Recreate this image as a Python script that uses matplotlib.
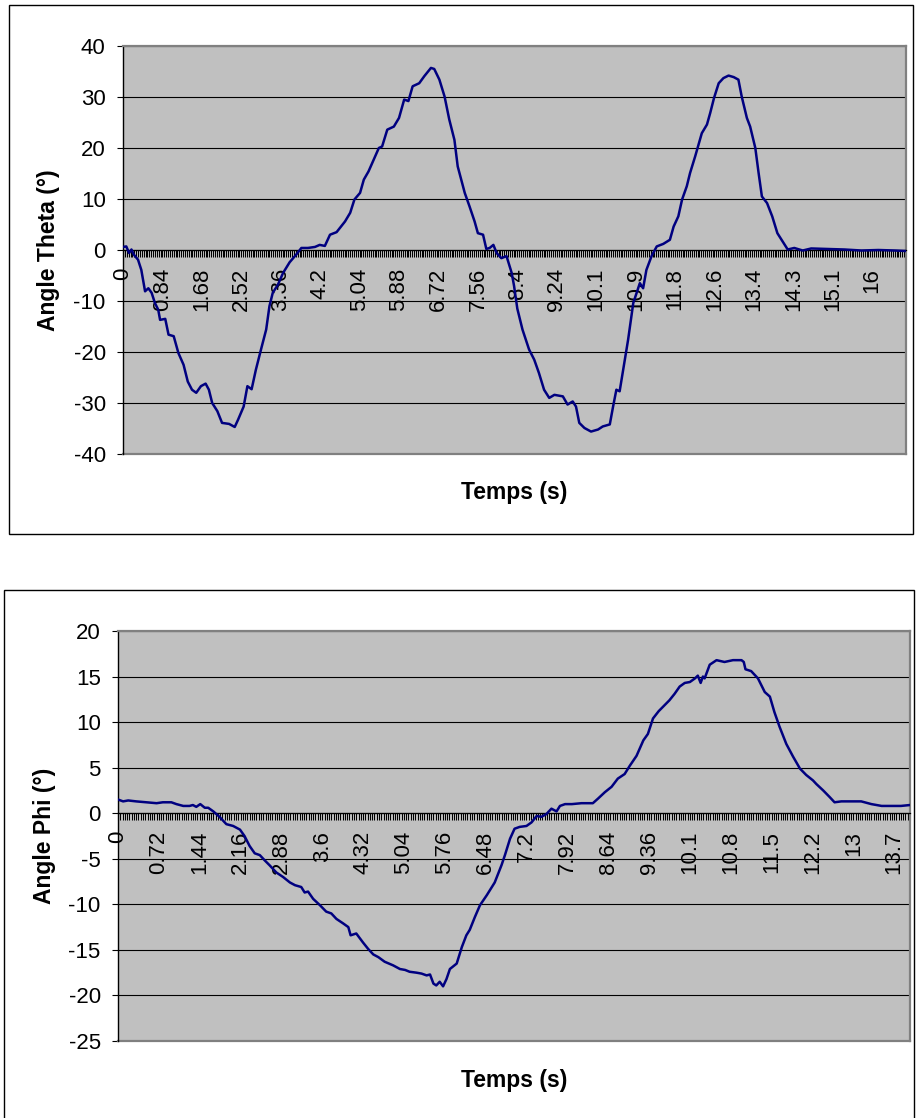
import numpy as np
import matplotlib
matplotlib.use('Agg')
import matplotlib.pyplot as plt
from matplotlib.patches import Rectangle

plt.rcParams['font.family'] = ['Liberation Sans', 'DejaVu Sans']
plt.rcParams['axes.unicode_minus'] = False

# --- angle theta (top chart) ---
theta_t = [0.00, 0.07, 0.13, 0.18, 0.23, 0.32, 0.39, 0.47, 0.54, 0.61, 0.68, 0.75, 0.79, 0.90,
           0.97, 1.08, 1.18, 1.29, 1.38, 1.47, 1.56, 1.66, 1.76, 1.83, 1.90, 2.01, 2.11, 2.26,
           2.38, 2.45, 2.57, 2.65, 2.74, 2.83, 2.94, 3.05, 3.12, 3.19, 3.30, 3.41, 3.55, 3.69,
           3.80, 3.94, 4.09, 4.19, 4.30, 4.41, 4.55, 4.73, 4.84, 4.93, 5.05, 5.13, 5.23, 5.34,
           5.45, 5.52, 5.63, 5.77, 5.88, 5.99, 6.08, 6.17, 6.31, 6.42, 6.56, 6.63, 6.74, 6.85,
           6.95, 7.06, 7.13, 7.28, 7.38, 7.49, 7.56, 7.67, 7.74, 7.81, 7.89, 7.96, 8.06, 8.17,
           8.28, 8.33, 8.40, 8.51, 8.65, 8.76, 8.86, 8.97, 9.08, 9.19, 9.37, 9.47, 9.58, 9.65,
           9.72, 9.83, 9.97, 10.12, 10.22, 10.37, 10.44, 10.51, 10.58, 10.69, 10.76, 10.87,
           11.01, 11.08, 11.15, 11.26, 11.37, 11.51, 11.65, 11.73, 11.83, 11.91, 12.01, 12.08,
           12.19, 12.33, 12.44, 12.51, 12.59, 12.69, 12.79, 12.90, 13.01, 13.11, 13.18, 13.29,
           13.36, 13.47, 13.54, 13.61, 13.72, 13.83, 13.94, 14.05, 14.16, 14.30, 14.48, 14.66,
           15.02, 15.37, 15.73, 16.09, 16.45, 16.68]
theta = [0.6, 0.7, -0.6, 0.1, -0.9, -1.9, -3.9, -8.1, -7.5, -8.4, -10.4, -11.7, -13.7, -13.5,
         -16.6, -16.9, -20.2, -22.5, -25.8, -27.4, -28.0, -26.7, -26.2, -27.4, -30.0, -31.6, -33.9, -34.1,
         -34.7, -33.3, -30.7, -26.7, -27.3, -23.5, -19.5, -15.6, -11.0, -8.4, -6.8, -4.5, -2.4, -0.9,
         0.4, 0.4, 0.6, 1.0, 0.8, 3.0, 3.5, 5.6, 7.3, 9.9, 11.2, 13.8, 15.4, 17.7,
         20.0, 20.3, 23.6, 24.2, 25.9, 29.5, 29.2, 32.1, 32.7, 34.1, 35.7, 35.5, 33.4, 30.1,
         25.6, 21.6, 16.4, 11.2, 8.6, 5.6, 3.3, 3.0, 0.2, 0.4, 1.0, -0.6, -1.6, -1.2,
         -4.5, -7.0, -11.5, -15.6, -19.5, -21.5, -24.1, -27.4, -29.0, -28.4, -28.7, -30.3, -29.7, -30.7,
         -33.9, -34.9, -35.6, -35.2, -34.6, -34.2, -30.7, -27.4, -27.7, -21.5, -17.6, -10.4,
         -6.5, -7.5, -3.9, -1.2, 0.7, 1.2, 2.0, 4.6, 6.6, 9.9, 12.5, 15.1,
         18.4, 22.9, 24.6, 26.9, 29.8, 32.7, 33.7, 34.2, 33.9, 33.4, 30.1, 25.9,
         24.2, 20.0, 15.1, 10.5, 9.2, 6.6, 3.3, 1.7, 0.1, 0.4, -0.1, 0.3,
         0.2, 0.1, -0.1, 0.0, -0.1, -0.2]
theta_labels = ['0', '0.84', '1.68', '2.52', '3.36', '4.2', '5.04', '5.88', '6.72', '7.56',
                '8.4', '9.24', '10.1', '10.9', '11.8', '12.6', '13.4', '14.3', '15.1', '16']

# --- angle phi (bottom chart) ---
phi_t = [0.00, 0.09, 0.18, 0.32, 0.50, 0.68, 0.79, 0.94, 1.03, 1.15, 1.26, 1.32, 1.38, 1.45,
         1.53, 1.59, 1.68, 1.79, 1.91, 2.03, 2.15, 2.23, 2.32, 2.41, 2.50, 2.59, 2.67, 2.79,
         2.91, 3.03, 3.12, 3.23, 3.29, 3.35, 3.44, 3.56, 3.67, 3.76, 3.85, 3.97, 4.06, 4.10,
         4.20, 4.32, 4.41, 4.50, 4.59, 4.70, 4.85, 4.97, 5.06, 5.14, 5.26, 5.35, 5.44, 5.50,
         5.56, 5.61, 5.67, 5.73, 5.79, 5.85, 5.97, 6.06, 6.14, 6.20, 6.29, 6.38, 6.50, 6.64,
         6.76, 6.82, 6.91, 6.99, 7.08, 7.20, 7.29, 7.38, 7.46, 7.55, 7.64, 7.73, 7.79, 7.88,
         8.00, 8.17, 8.37, 8.46, 8.58, 8.70, 8.81, 8.93, 9.02, 9.14, 9.26, 9.34, 9.43, 9.53,
         9.61, 9.72, 9.81, 9.90, 9.99, 10.08, 10.17, 10.22, 10.27, 10.31, 10.34, 10.43, 10.55,
         10.69, 10.84, 10.99, 11.03, 11.06, 11.16, 11.28, 11.40, 11.49, 11.57, 11.66, 11.78,
         11.90, 12.02, 12.13, 12.25, 12.31, 12.43, 12.54, 12.63, 12.75, 12.93, 13.10, 13.28,
         13.46, 13.63, 13.80, 13.96]
phi = [1.5, 1.3, 1.4, 1.3, 1.2, 1.1, 1.2, 1.2, 1.0, 0.8, 0.8, 0.9, 0.7, 1.0,
       0.6, 0.6, 0.2, -0.4, -1.2, -1.4, -1.8, -2.5, -3.6, -4.4, -4.6, -5.2, -5.7, -6.5,
       -7.0, -7.6, -7.9, -8.1, -8.7, -8.6, -9.4, -10.1, -10.8, -11.0, -11.6, -12.1, -12.5, -13.4,
       -13.2, -14.2, -14.9, -15.5, -15.8, -16.3, -16.7, -17.1, -17.2, -17.4, -17.5, -17.6, -17.8, -17.7,
       -18.7, -18.9, -18.5, -19.0, -18.2, -17.1, -16.5, -14.7, -13.4, -12.8, -11.4, -10.1, -9.0, -7.6,
       -5.7, -4.6, -2.8, -1.7, -1.5, -1.4, -1.0, -0.3, -0.4, -0.1, 0.5, 0.2, 0.8, 1.0,
       1.0, 1.1, 1.1, 1.6, 2.3, 2.9, 3.8, 4.3, 5.2, 6.3, 8.0, 8.7, 10.4, 11.2,
       11.7, 12.4, 13.1, 13.9, 14.3, 14.4, 14.8, 15.1, 14.3, 15.0, 14.8, 16.3, 16.8,
       16.6, 16.8, 16.8, 16.6, 15.8, 15.6, 14.8, 13.3, 12.8, 11.1, 9.5, 7.6,
       6.2, 4.9, 4.2, 3.6, 3.2, 2.5, 1.8, 1.2, 1.3, 1.3, 1.3, 1.0,
       0.8, 0.8, 0.8, 0.9]
phi_labels = ['0', '0.72', '1.44', '2.16', '2.88', '3.6', '4.32', '5.04', '5.76', '6.48',
              '7.2', '7.92', '8.64', '9.36', '10.1', '10.8', '11.5', '12.2', '13', '13.7']

W, H = 916, 1118
fig = plt.figure(figsize=(W / 100, H / 100), dpi=100)


def box(x0, y0, x1, y1, **kw):
    # rectangle given in image pixels (y from top)
    r = Rectangle((x0 / W, 1 - y1 / H), (x1 - x0) / W, (y1 - y0) / H,
                  transform=fig.transFigure, fill=False, **kw)
    fig.add_artist(r)


def chart(x0, y0, x1, y1, t, v, tmax, ylim, ystep, lab_step, labels):
    ax = fig.add_axes([x0 / W, 1 - y1 / H, (x1 - x0) / W, (y1 - y0) / H])
    ax.set_facecolor('#c0c0c0')
    ax.plot(t, v, color='#000080', lw=1.8, zorder=3)
    ax.set_xlim(0, tmax)
    ax.set_ylim(*ylim)
    ax.set_yticks(np.arange(ylim[0], ylim[1] + 0.1, ystep))
    ax.yaxis.grid(True, color='black', lw=0.8)
    ax.set_axisbelow(True)

    ax.set_xticks(np.arange(len(labels)) * lab_step)
    ax.set_xticklabels(labels)
    ax.set_xticks(np.arange(0, tmax + 0.001, 0.04), minor=True)

    ax.spines['bottom'].set_position(('data', 0))
    ax.spines['bottom'].set_color('black')
    ax.spines['bottom'].set_linewidth(0.9)
    ax.spines['left'].set_color('black')
    ax.spines['left'].set_linewidth(1.0)
    for s in ['top', 'right']:
        ax.spines[s].set_color('#808080')
        ax.spines[s].set_linewidth(1.6)
    ax.plot([0, 1], [0, 0], transform=ax.transAxes, color='#808080', lw=1.6, clip_on=False)

    ax.tick_params(axis='y', direction='out', length=4.5, width=0.8, pad=8,
                   labelsize=16, colors='black')
    ax.tick_params(axis='x', which='both', direction='out', length=4.8, width=0.75,
                   pad=8, labelsize=16, colors='black', labelrotation=90)

    xc = (x0 + x1) / 2 / W
    return ax, xc


# top chart
box(9, 5, 913, 534, ec='black', lw=1.0)
ax1, xc = chart(123, 46, 906, 454, theta_t, theta, 16.68, (-40, 40), 10, 0.84, theta_labels)
fig.text(49 / W, 1 - 250 / H, 'Angle Theta (°)', rotation=90, ha='center', va='center',
         fontsize=16.5, fontweight='bold')
fig.text(xc, 1 - 493 / H, 'Temps (s)', ha='center', va='center', fontsize=16.5, fontweight='bold')

# bottom chart
box(4, 590, 914, 1130, ec='black', lw=1.0)
ax2, xc = chart(118, 631, 910, 1041, phi_t, phi, 13.96, (-25, 20), 5, 0.72, phi_labels)
fig.text(44 / W, 1 - 836 / H, 'Angle Phi (°)', rotation=90, ha='center', va='center',
         fontsize=16.5, fontweight='bold')
fig.text(xc, 1 - 1080 / H, 'Temps (s)', ha='center', va='center', fontsize=16.5, fontweight='bold')

fig.savefig('out.png', dpi=100)
